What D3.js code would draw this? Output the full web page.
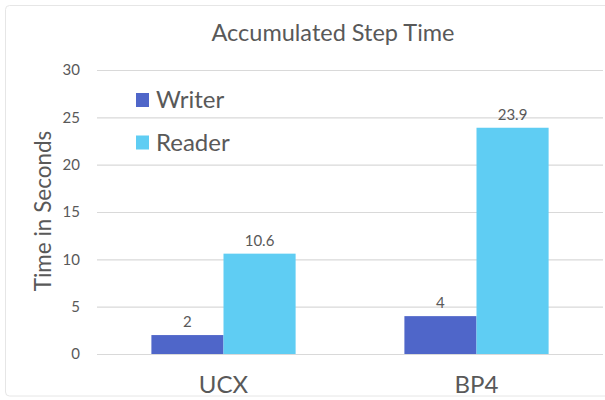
<!DOCTYPE html>
<html>
<head>
<meta charset="utf-8">
<script src="https://cdn.jsdelivr.net/npm/d3@7"></script>
<style>
  body { margin: 0; background: #fff; }
  text { font-family: Lato, "Open Sans", sans-serif; fill: #595959; }
</style>
</head>
<body>
<div id="chart"></div>
<script>
// chart values
const categories = ['UCX', 'BP4'];
const seriesNames = ['Writer', 'Reader'];
const writerValues = [2, 4];
const readerValues = [10.6, 23.9];
const yTicks = [0, 5, 10, 15, 20, 25, 30];

const colors = {Writer: '#4f66c9', Reader: '#5fcdf3'};

const width = 605, height = 400;
const margin = {top: 70, right: 2, bottom: 46, left: 97};

const svg = d3.select('#chart').append('svg')
    .attr('width', width)
    .attr('height', height);

// light frame around the chart area
svg.append('rect')
    .attr('x', 5.5).attr('y', 5.5)
    .attr('width', width).attr('height', 390.5)
    .attr('rx', 4)
    .attr('fill', 'none')
    .attr('stroke', '#e6e6e6');

const x = d3.scaleBand()
    .domain(categories)
    .range([margin.left, width - margin.right])
    .paddingInner(0.43)
    .paddingOuter(0.215);

const xSeries = d3.scaleBand()
    .domain(seriesNames)
    .range([0, x.bandwidth()]);

const y = d3.scaleLinear()
    .domain([0, 30])
    .range([height - margin.bottom, margin.top]);

// gridlines + tick labels
const yAxis = svg.append('g')
    .attr('transform', `translate(${margin.left},0)`)
    .call(d3.axisLeft(y).tickValues(yTicks).tickSize(-(width - margin.left - margin.right)).tickPadding(17));
yAxis.select('.domain').remove();
yAxis.selectAll('.tick line').attr('stroke', '#d9d9d9').attr('stroke-width', 1.2);
yAxis.selectAll('.tick text')
    .style('font-size', '15px')
    .attr('fill', '#595959');

const rows = categories.map((c, i) => ({cat: c, Writer: writerValues[i], Reader: readerValues[i]}));

const groups = svg.append('g').selectAll('g')
    .data(rows)
    .join('g')
      .attr('transform', d => `translate(${x(d.cat)},0)`);

groups.selectAll('rect')
    .data(d => seriesNames.map(s => ({s, v: d[s]})))
    .join('rect')
      .attr('x', d => xSeries(d.s))
      .attr('y', d => y(d.v))
      .attr('width', xSeries.bandwidth())
      .attr('height', d => y(0) - y(d.v))
      .attr('fill', d => colors[d.s]);

groups.selectAll('text.value')
    .data(d => seriesNames.map(s => ({s, v: d[s]})))
    .join('text')
      .attr('class', 'value')
      .attr('x', d => xSeries(d.s) + xSeries.bandwidth() / 2)
      .attr('y', d => y(d.v) - 8)
      .attr('text-anchor', 'middle')
      .style('font-size', '15px')
      .attr('fill', '#404040')
      .text(d => d.v);

// category labels
svg.append('g').selectAll('text')
    .data(categories)
    .join('text')
      .attr('x', d => x(d) + x.bandwidth() / 2)
      .attr('y', 393)
      .attr('text-anchor', 'middle')
      .style('font-size', '24px')
      .text(d => d);

// title
svg.append('text')
    .attr('x', 333)
    .attr('y', 41)
    .attr('text-anchor', 'middle')
    .style('font-size', '23.5px')
    .text('Accumulated Step Time');

// y axis label
svg.append('text')
    .attr('transform', 'translate(51,211) rotate(-90)')
    .attr('text-anchor', 'middle')
    .style('font-size', '22.5px')
    .text('Time in Seconds');

// legend
const legend = svg.append('g').selectAll('g')
    .data(seriesNames)
    .join('g')
      .attr('transform', (d, i) => `translate(136,${93 + i * 42.5})`);
legend.append('rect')
    .attr('width', 13).attr('height', 14)
    .attr('fill', d => colors[d]);
legend.append('text')
    .attr('x', 20).attr('y', 15)
    .style('font-size', '24px')
    .text(d => d);
</script>
</body>
</html>
